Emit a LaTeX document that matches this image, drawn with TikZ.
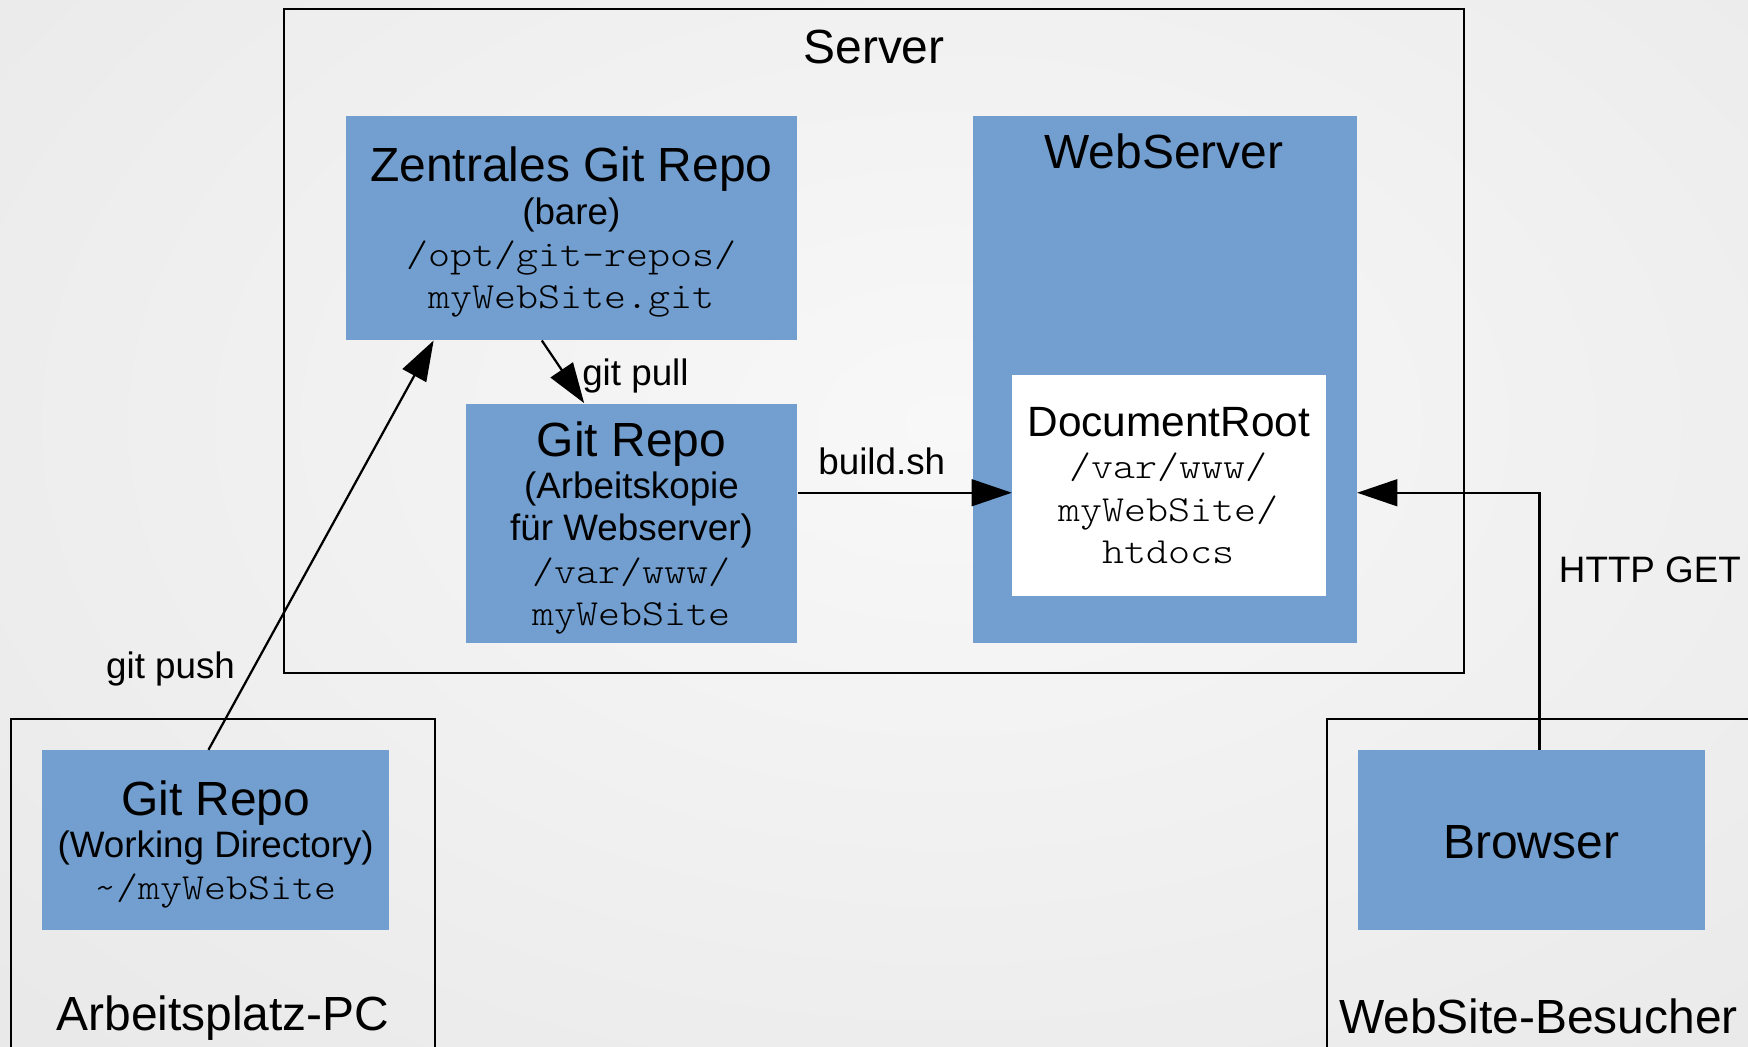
\documentclass[tikz,border=0pt]{standalone}
\usepackage{fontspec}
\setmainfont{Liberation Sans}
\setmonofont{lmmonolt10-regular.otf}[FakeStretch=1.14]
\usetikzlibrary{arrows.meta}
\definecolor{boxblue}{HTML}{729FCF}
\definecolor{bginner}{HTML}{F8F8F8}
\definecolor{bgouter}{HTML}{D9D9D9}
\begin{document}
\begin{tikzpicture}[x=0.5pt,y=-0.5pt,
  frame/.style={draw=black,line width=1pt},
  bluebox/.style={fill=boxblue,draw=none,inner sep=0pt},
  whitebox/.style={fill=white,draw=none,inner sep=0pt},
  boxtext/.style={inner sep=0pt,align=center,font=\fontsize{16.5}{19}\selectfont},
  bigtext/.style={font=\fontsize{21.5}{25}\selectfont,inner sep=0pt},
  smalltext/.style={font=\fontsize{16.5}{19}\selectfont,inner sep=0pt},
  conn/.style={line width=1pt,-{Triangle[length=18pt,width=12pt]}},
  ]
\useasboundingbox (0,0) rectangle (1568,939);
\clip (0,0) rectangle (1568,939);
\shade[inner color=bginner,outer color=bgouter] (-1550,-1200) rectangle (3250,1960);

% frames
\draw[frame] (255,8) rectangle (1313,604);
\draw[frame] (10,645) rectangle (390,990);
\draw[frame] (1190,645) rectangle (1620,990);

% frame titles
\node[bigtext] (tserver) at (784,42) {Server};
\node[bigtext] (tpc) at (200,913) {Arbeitsplatz-PC};
\node[bigtext] (tbes) at (1380,912) {WebSite-Besucher};

% boxes
\node[bluebox,minimum width=202.5pt,minimum height=100.5pt] (zr) at (512.5,204.5) {};
\node[boxtext] (zrt) at ([yshift=-2pt]zr.center)
  {{\fontsize{21.5}{25}\selectfont Zentrales Git Repo}\\
   (bare)\\ \texttt{/opt/git-repos/}\\ \texttt{myWebSite.git}};
\node[bluebox,minimum width=148.5pt,minimum height=107.5pt] (ak) at (566.5,469.5) {};
\node[boxtext] (akt) at ([yshift=-2pt]ak.center)
  {{\fontsize{21.5}{25}\selectfont Git Repo}\\
   (Arbeitskopie\\ für Webserver)\\ \texttt{/var/www/}\\ \texttt{myWebSite}};
\node[bluebox,minimum width=172pt,minimum height=236.5pt] (ws) at (1045,340.5) {};
\node[bigtext] (tws) at (1044,136) {WebServer};
\node[whitebox,minimum width=140.5pt,minimum height=99.5pt] (dr) at (1048.5,435.5) {};
\node[boxtext] (drt) at (dr.center)
  {{\fontsize{19}{23}\selectfont DocumentRoot}\\
   \texttt{/var/www/}\\ \texttt{myWebSite/}\\ \texttt{htdocs}};
\node[bluebox,minimum width=155.5pt,minimum height=80.5pt] (pc) at (193.5,753.5) {};
\node[boxtext] (pct) at ([yshift=-2pt]pc.center)
  {{\fontsize{21.5}{25}\selectfont Git Repo}\\
   (Working Directory)\\ \texttt{\textasciitilde/myWebSite}};
\node[bluebox,minimum width=155.5pt,minimum height=80.5pt] (br) at (1373.5,753.5) {};
\node[bigtext] (brt) at ([yshift=-1pt]br.center) {Browser};

% connectors
\coordinate (bsy) at (0,442);
\draw[conn] ([xshift=-13.25pt]zr.south) -- ([xshift=-21.25pt]ak.north);
\draw[conn] (ak.east |- bsy) -- (dr.west |- bsy);
\draw[conn] ([xshift=3.75pt]br.north) |- (ws.east |- bsy);
\draw[conn] ([xshift=-3.25pt]pc.north) -- ([xshift=-61.75pt]zr.south);

% connector labels
\node[smalltext] (lpull) at (570,337) {git pull};
\node[smalltext] (lbuild) at (791,414) {build.sh};
\node[smalltext] (lhttp) at (1480,511) {HTTP GET};
\node[smalltext] (lpush) at (153,600) {git push};
\end{tikzpicture}
\end{document}
